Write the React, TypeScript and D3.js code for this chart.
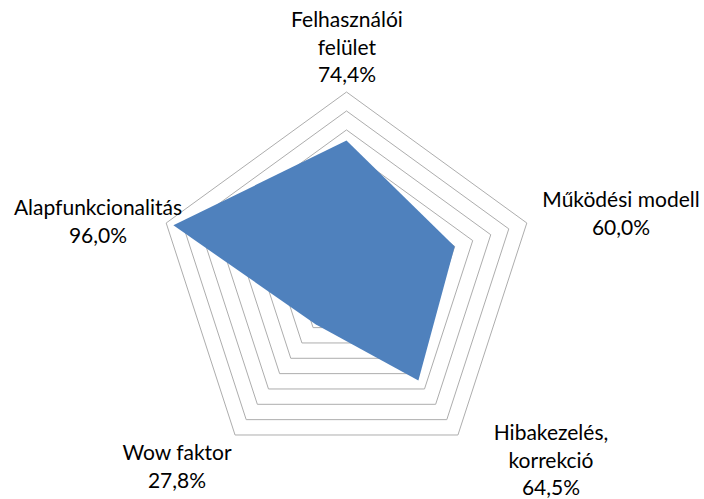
import React, { useEffect, useRef } from "react";
import * as d3 from "d3";

const categories = ["Felhasználói felület", "Működési modell", "Hibakezelés, korrekció", "Wow faktor", "Alapfunkcionalitás"];
const values = [0.744, 0.6, 0.645, 0.278, 0.96];
const valueLabels = ["74,4%", "60,0%", "64,5%", "27,8%", "96,0%"];
const labelLines = [
  ["Felhasználói", "felület"],
  ["Működési modell"],
  ["Hibakezelés,", "korrekció"],
  ["Wow faktor"],
  ["Alapfunkcionalitás"],
];
const gridTicks = [0.1, 0.2, 0.3, 0.4, 0.5, 0.6, 0.7, 0.8, 0.9, 1.0];

// label anchor: [center x, first baseline y]
const labelPos = [
  [347, 27],
  [621, 207],
  [551, 440],
  [177, 460],
  [98, 215],
];

const App = () => {
  const svgRef = useRef<SVGSVGElement>(null);

  useEffect(() => {
    const svg = d3.select(svgRef.current);
    svg.selectAll("*").remove();

    const width = 704;
    const height = 499;
    const cx = 346.5;
    const cy = 281.6;
    const R = 189.6;

    svg.attr("width", width).attr("height", height);

    const r = d3.scaleLinear().domain([0, 1]).range([0, R]);
    const angle = d3.scalePoint<string>()
      .domain(categories)
      .range([0, (2 * Math.PI * (categories.length - 1)) / categories.length]);

    const pt = (cat: string, v: number): [number, number] => {
      const a = angle(cat)!;
      return [cx + r(v) * Math.sin(a), cy - r(v) * Math.cos(a)];
    };

    const line = d3.line().curve(d3.curveLinearClosed);

    // grid rings
    svg.append("g")
      .selectAll("path")
      .data(gridTicks)
      .join("path")
      .attr("d", t => line(categories.map(c => pt(c, t))))
      .attr("fill", "none")
      .attr("stroke", "#ADADAD")
      .attr("stroke-width", 1);

    // data area
    svg.append("path")
      .attr("d", line(categories.map((c, i) => pt(c, values[i]))))
      .attr("fill", "#4F81BD")
      .attr("stroke", "none");

    // labels
    const lg = svg.append("g")
      .attr("font-family", "Lato, sans-serif")
      .attr("font-size", 21)
      .attr("fill", "#000")
      .attr("text-anchor", "middle");

    categories.forEach((c, i) => {
      const [x, y] = labelPos[i];
      const lines = [...labelLines[i], valueLabels[i]];
      const t = lg.append("text").attr("x", x).attr("y", y);
      lines.forEach((l, j) => {
        t.append("tspan").attr("x", x).attr("y", y + j * 27.5).text(l);
      });
    });
  }, []);

  return (
    <div style={{ position: "absolute", left: 0, top: 0, background: "#fff" }}>
      <svg ref={svgRef} style={{ display: "block" }}></svg>
    </div>
  );
};

export default App;
